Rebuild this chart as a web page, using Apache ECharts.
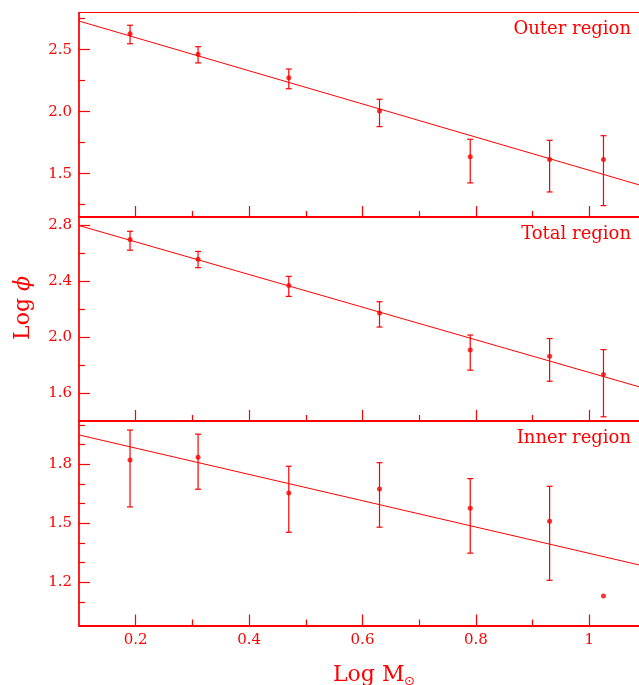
<!DOCTYPE html>
<html>
<head>
<meta charset="utf-8">
<script src="https://cdn.jsdelivr.net/npm/echarts@6/dist/echarts.min.js"></script>
<style>
  html, body { margin: 0; padding: 0; background: #ffffff; }
  #chart { width: 639px; height: 685px; }
</style>
</head>
<body>
<div id="chart"></div>
<script>
// Log of stellar mass for each bin
const logMass = [0.19, 0.31, 0.47, 0.63, 0.79, 0.93, 1.025];

// Outer region: log phi with lower / upper error limits
const outerLogPhi = [2.629, 2.463, 2.274, 2.005, 1.637, 1.613, 1.613];
const outerLow    = [2.548, 2.393, 2.185, 1.879, 1.425, 1.352, 1.242];
const outerHigh   = [2.697, 2.524, 2.344, 2.100, 1.777, 1.769, 1.806];

// Total region
const totalLogPhi = [2.696, 2.556, 2.368, 2.171, 1.907, 1.862, 1.732];
const totalLow    = [2.620, 2.495, 2.290, 2.071, 1.763, 1.684, 1.430];
const totalHigh   = [2.755, 2.611, 2.433, 2.252, 2.014, 1.989, 1.910];

// Inner region (last bin has no error bar)
const innerLogPhi = [1.822, 1.836, 1.654, 1.674, 1.576, 1.510, 1.130];
const innerLow    = [1.583, 1.673, 1.454, 1.480, 1.348, 1.210, null];
const innerHigh   = [1.974, 1.953, 1.790, 1.808, 1.727, 1.688, null];

// Straight-line fits, given at the two ends of the mass range
const fitMass  = [0.1, 1.1];
const outerFit = [2.731, 1.393];
const totalFit = [2.796, 1.630];
const innerFit = [1.949, 1.280];

// Tick positions
const massTicks      = [0.2, 0.4, 0.6, 0.8, 1.0];
const massMinorTicks = [0.3, 0.5, 0.7, 0.9];
const outerTicks      = [1.5, 2.0, 2.5];
const outerMinorTicks = [1.25, 1.75, 2.25, 2.75];
const totalTicks      = [1.6, 2.0, 2.4, 2.8];
const totalMinorTicks = [1.8, 2.2, 2.6];
const innerTicks      = [1.2, 1.5, 1.8];
const innerMinorTicks = [1.1, 1.3, 1.4, 1.6, 1.7, 1.9, 2.0];

const panelNames = ['Outer region', 'Total region', 'Inner region'];

const RED = '#ff0000';
const FONT = 'DejaVu Serif';

const panels = [
  { name: panelNames[0], y: outerLogPhi, lo: outerLow, hi: outerHigh, fit: outerFit,
    min: 1.15, max: 2.80, ticks: outerTicks, minor: outerMinorTicks, top: 12.5, height: 204.5 },
  { name: panelNames[1], y: totalLogPhi, lo: totalLow, hi: totalHigh, fit: totalFit,
    min: 1.40, max: 2.857, ticks: totalTicks, minor: totalMinorTicks, top: 217, height: 204 },
  { name: panelNames[2], y: innerLogPhi, lo: innerLow, hi: innerHigh, fit: innerFit,
    min: 0.98, max: 2.02, ticks: innerTicks, minor: innerMinorTicks, top: 421, height: 204.5 }
];

const grids = [], xAxes = [], yAxes = [], series = [], graphics = [];

function renderErrorBar(params, api) {
  const x = api.value(0);
  const pLo = api.coord([x, api.value(1)]);
  const pHi = api.coord([x, api.value(2)]);
  const cap = 3;
  const st = { stroke: RED, lineWidth: 1.2 };
  return {
    type: 'group',
    children: [
      { type: 'line', shape: { x1: pLo[0], y1: pLo[1], x2: pHi[0], y2: pHi[1] }, style: st },
      { type: 'line', shape: { x1: pLo[0] - cap, y1: pLo[1], x2: pLo[0] + cap, y2: pLo[1] }, style: st },
      { type: 'line', shape: { x1: pHi[0] - cap, y1: pHi[1], x2: pHi[0] + cap, y2: pHi[1] }, style: st }
    ]
  };
}

panels.forEach((p, i) => {
  const last = i === panels.length - 1;
  // the frame runs on past the right edge of the canvas
  grids.push({
    left: 79, width: 567, top: p.top, height: p.height,
    outerBoundsMode: 'none', containLabel: false,
    show: true, borderColor: RED, borderWidth: 1, backgroundColor: 'transparent'
  });

  // x axes: major ticks (with labels on the lowest panel) and minor ticks
  xAxes.push({
    type: 'value', gridIndex: i, min: 0.1, max: 1.1, position: 'bottom',
    axisLine: { show: true, onZero: false, lineStyle: { color: RED, width: 2 } },
    axisTick: { show: true, inside: true, length: 11, customValues: massTicks,
                lineStyle: { color: RED, width: 1.2 } },
    axisLabel: { show: last, customValues: massTicks, color: RED, fontFamily: FONT,
                 fontSize: 15, margin: 7, formatter: v => String(+v.toFixed(1)) },
    splitLine: { show: false }
  });
  xAxes.push({
    type: 'value', gridIndex: i, min: 0.1, max: 1.1, position: 'bottom',
    axisLine: { show: false },
    axisTick: { show: true, inside: true, length: 6, customValues: massMinorTicks,
                lineStyle: { color: RED, width: 1.2 } },
    axisLabel: { show: false },
    splitLine: { show: false }
  });

  // y axes: major ticks with labels, and minor ticks
  yAxes.push({
    type: 'value', gridIndex: i, min: p.min, max: p.max, position: 'left',
    axisLine: { show: true, onZero: false, lineStyle: { color: RED, width: 1.5 } },
    axisTick: { show: true, inside: true, length: 11, customValues: p.ticks,
                lineStyle: { color: RED, width: 1.2 } },
    axisLabel: { show: true, customValues: p.ticks, color: RED, fontFamily: FONT,
                 fontSize: 15, margin: 7, formatter: v => v.toFixed(1) },
    splitLine: { show: false }
  });
  yAxes.push({
    type: 'value', gridIndex: i, min: p.min, max: p.max, position: 'left',
    axisLine: { show: false },
    axisTick: { show: true, inside: true, length: 6, customValues: p.minor,
                lineStyle: { color: RED, width: 1.2 } },
    axisLabel: { show: false },
    splitLine: { show: false }
  });

  const xi = i * 2, yi = i * 2;

  series.push({
    type: 'line', xAxisIndex: xi, yAxisIndex: yi,
    data: fitMass.map((m, k) => [m, p.fit[k]]),
    showSymbol: false, symbol: 'none', silent: true,
    lineStyle: { color: RED, width: 1 }
  });

  series.push({
    type: 'custom', xAxisIndex: xi, yAxisIndex: yi,
    renderItem: renderErrorBar,
    encode: { x: 0, y: [1, 2] },
    data: logMass.map((m, k) => [m, p.lo[k], p.hi[k]]).filter(d => d[1] != null)
  });

  series.push({
    type: 'scatter', xAxisIndex: xi, yAxisIndex: yi,
    data: logMass.map((m, k) => [m, p.y[k]]),
    symbol: 'circle', symbolSize: 5,
    itemStyle: { color: RED }
  });

  graphics.push({
    type: 'text', x: 631, y: p.top + 8,
    style: { text: p.name, fill: RED, font: '18px "' + FONT + '"', align: 'right', verticalAlign: 'top' }
  });
});

// axis titles
graphics.push({
  type: 'text', x: 12, y: 308, rotation: Math.PI / 2,
  style: {
    text: '{a|Log }{b|ϕ}', fill: RED, align: 'center', verticalAlign: 'top',
    rich: {
      a: { fontFamily: FONT, fontSize: 22, fill: RED },
      b: { fontFamily: FONT, fontSize: 22, fontStyle: 'italic', fill: RED }
    }
  }
});
graphics.push({
  type: 'text', x: 333, y: 664,
  style: { text: 'Log M', fill: RED, font: '22px "' + FONT + '"', verticalAlign: 'top' }
});
graphics.push({
  type: 'text', x: 404, y: 675,
  style: { text: '⊙', fill: RED, font: '13px "DejaVu Sans"', verticalAlign: 'top' }
});

const chart = echarts.init(document.getElementById('chart'), null, { renderer: 'canvas' });
chart.setOption({
  animation: false,
  backgroundColor: '#ffffff',
  grid: grids,
  xAxis: xAxes,
  yAxis: yAxes,
  series: series,
  graphic: graphics
});
</script>
</body>
</html>
